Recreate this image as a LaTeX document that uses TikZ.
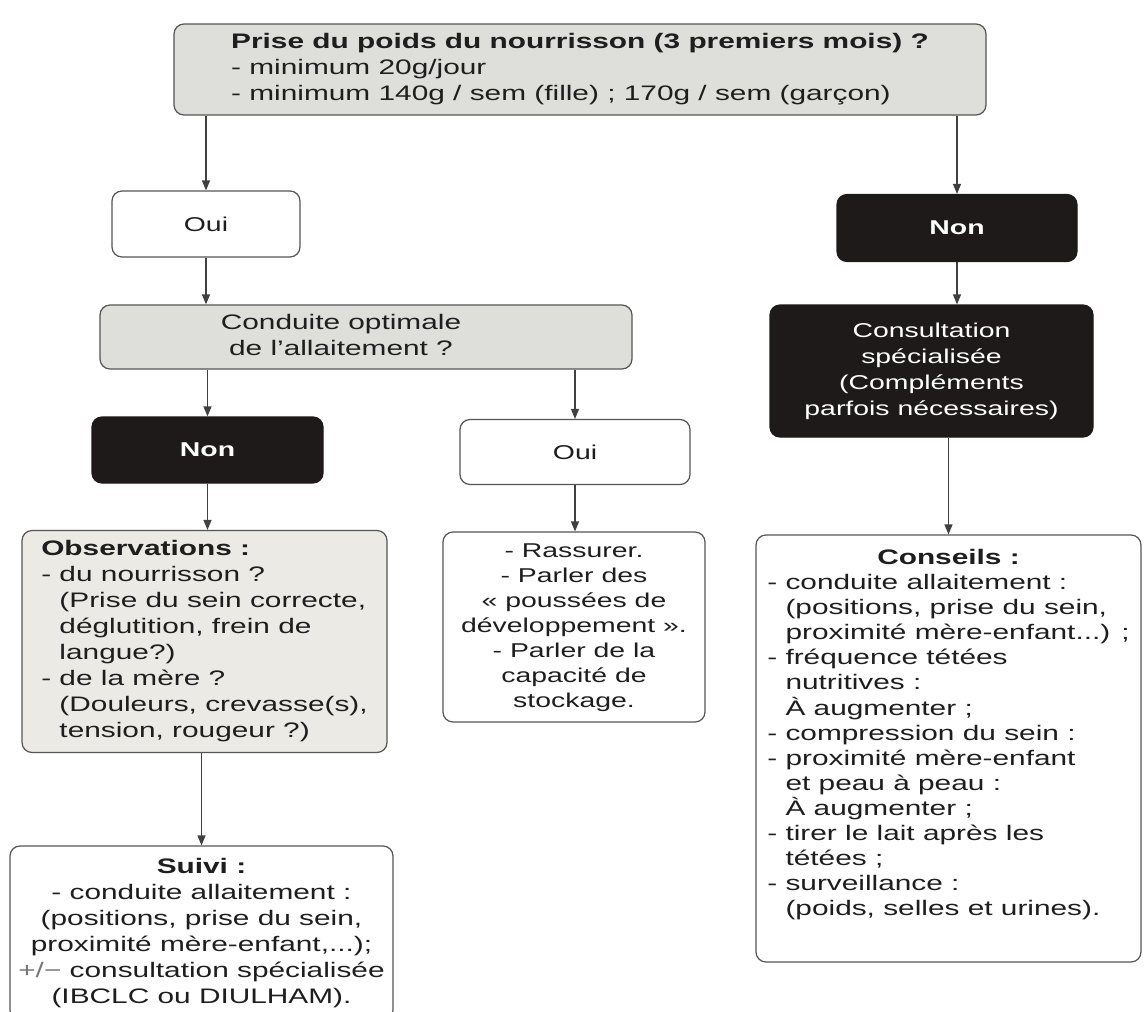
\documentclass[tikz,border=0pt]{standalone}
\usepackage{fontspec}
\setmainfont[FakeStretch=1.42]{Liberation Sans}
\usetikzlibrary{arrows.meta}
\definecolor{boxgray}{HTML}{DEDEDA}
\definecolor{obsgray}{HTML}{EBEAE5}
\definecolor{darkbox}{HTML}{1E1A19}
\definecolor{edgec}{HTML}{555555}
\definecolor{ink}{HTML}{1E1E1E}
\newcommand{\hangsp}{\hphantom{- }}
\begin{document}
\begin{tikzpicture}[x=1pt,y=-1pt,
  box/.style={draw=edgec, line width=1.2pt, rounded corners=10pt, inner sep=0pt, text=ink, anchor=center},
  graybox/.style={box, fill=boxgray},
  obsbox/.style={box, fill=obsgray},
  whitebox/.style={box, fill=white},
  blackbox/.style={box, draw=darkbox, fill=darkbox, text=white},
  arr/.style={draw=ink!85, line width=1.2pt, -{Triangle[length=10pt,width=8pt]}},
  big/.style={font=\fontsize{21}{26}\selectfont},
  small/.style={font=\fontsize{20}{26}\selectfont}
  ]
\path[use as bounding box, fill=white] (0,0) rectangle (1144,1012);

% top question
\node[graybox, big, minimum width=812pt, minimum height=91pt] (top) at (580,69.5)
  {\begin{tabular}{@{}l@{}}\textbf{Prise du poids du nourrisson (3 premiers mois) ?}\\
   - minimum 20g/jour\\
   - minimum 140g / sem (fille) ; 170g / sem (garçon)\end{tabular}};

% left branch
\node[whitebox, small, minimum width=188pt, minimum height=66pt] (oui1) at (206,224) {Oui};
\node[graybox, big, minimum width=532pt, minimum height=64pt] (cond) at (366,337)
  {\hspace*{-50pt}\begin{tabular}{@{}c@{}}Conduite optimale\\de l’allaitement ?\end{tabular}};
\node[blackbox, small, minimum width=231pt, minimum height=66pt] (non2) at (207.5,450) {\textbf{Non}};
\node[whitebox, small, minimum width=230pt, minimum height=65pt] (oui2) at (575,452) {Oui};

\node[obsbox, big, minimum width=365pt, minimum height=222pt] (obs) at (204.5,641.5)
  {\begin{tabular}{@{}l@{}}\textbf{Observations :}\\
   - du nourrisson ?\\
   \hangsp(Prise du sein correcte,\\
   \hangsp déglutition, frein de\\
   \hangsp langue?)\\
   - de la mère ?\\
   \hangsp(Douleurs, crevasse(s),\\
   \hangsp tension, rougeur ?)\end{tabular}};

\node[whitebox, font=\fontsize{21}{26}\selectfont, minimum width=383pt, minimum height=174pt] (suivi) at (201.5,933)
  {\begin{tabular}{@{}c@{}}\textbf{Suivi :}\\
   - conduite allaitement :\\
   (positions, prise du sein,\\
   proximité mère-enfant,...);\\
   {\color{ink!60}+/−} consultation spécialisée\\
   (IBCLC ou DIULHAM).\end{tabular}};

\node[whitebox, font=\fontsize{20}{25}\selectfont, minimum width=262pt, minimum height=190pt] (rass) at (574,627)
  {\begin{tabular}{@{}c@{}}- Rassurer.\\
   - Parler des\\
   « poussées de\\
   développement ».\\
   - Parler de la\\
   capacité de\\
   stockage.\end{tabular}};

% right branch
\node[blackbox, small, minimum width=240pt, minimum height=67pt] (non1) at (957,228) {\textbf{Non}};
\node[blackbox, small, minimum width=323pt, minimum height=132pt] (cons) at (931.5,371)
  {\begin{tabular}{@{}c@{}}Consultation\\spécialisée\\(Compléments\\parfois nécessaires)\end{tabular}};

\node[whitebox, font=\fontsize{21}{25}\selectfont, minimum width=385pt, minimum height=427pt] (cnsl) at (948.5,748.5)
  {\begin{tabular}{@{}l@{}}\multicolumn{1}{@{}c@{}}{\textbf{Conseils :}}\\
   - conduite allaitement :\\
   \hangsp(positions, prise du sein,\\
   \hangsp proximité mère-enfant...) ;\\
   - fréquence tétées\\
   \hangsp nutritives :\\
   \hangsp À augmenter ;\\
   - compression du sein :\\
   - proximité mère-enfant\\
   \hangsp et peau à peau :\\
   \hangsp À augmenter ;\\
   - tirer le lait après les\\
   \hangsp tétées ;\\
   - surveillance :\\
   \hangsp(poids, selles et urines).\\[27pt]\end{tabular}};

% connectors
\draw[arr] (top.south -| oui1) -- (oui1.north);
\draw[arr] (top.south -| non1) -- (non1.north);
\draw[arr] (oui1.south) -- (oui1.south |- cond.north);
\draw[arr] (cond.south -| non2) -- (non2.north);
\draw[arr] (cond.south -| oui2) -- (oui2.north);
\draw[arr] (non2.south) -- (non2.south |- obs.north);
\draw[arr] (obs.south -| suivi) -- (suivi.north);
\draw[arr] (oui2.south) -- (oui2.south |- rass.north);
\draw[arr] (non1.south) -- (non1.south |- cons.north);
\draw[arr] (cons.south -| cnsl) -- (cnsl.north);
\end{tikzpicture}
\end{document}
